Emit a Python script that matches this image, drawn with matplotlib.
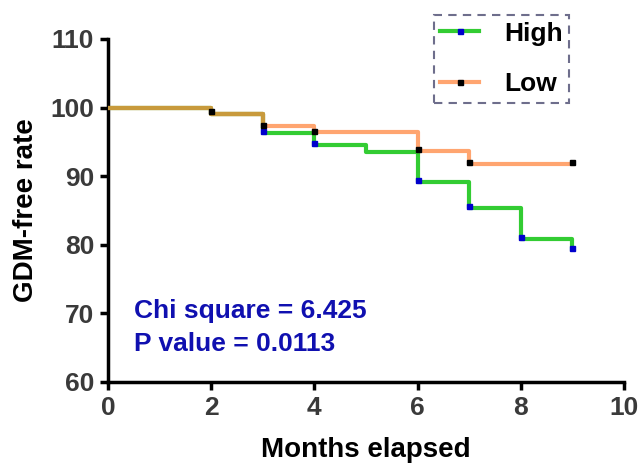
import matplotlib
matplotlib.use("Agg")
import matplotlib.pyplot as plt
import numpy as np

# Kaplan-Meier style step data (months, % GDM-free)
high_t = [0, 2, 3, 4, 5, 6, 7, 8, 9]
high_s = [100, 99.1, 96.3, 94.6, 93.6, 89.1, 85.4, 80.9, 79.4]
low_t = [0, 2, 3, 4, 6, 7, 9]
low_s = [100, 99.1, 97.3, 96.4, 93.7, 91.8, 91.8]

# censor marks (small squares)
high_mt = [3, 4, 6, 7, 8, 9]
high_ms = [96.6, 94.9, 89.4, 85.7, 81.2, 79.6]
low_mt = [2, 3, 4, 6, 7, 9]
low_ms = [99.5, 97.4, 96.6, 93.9, 92.1, 92.1]

chi_text = "Chi square = 6.425"
p_text = "P value = 0.0113"

plt.rcParams['font.family'] = ['Liberation Sans', 'DejaVu Sans']
plt.rcParams['font.weight'] = 'bold'

fig = plt.figure(figsize=(6.44, 4.66), dpi=100)
ax = fig.add_axes([108/644, 1 - 382/466, (624-108)/644, (382-39)/466])

green = '#33CC33'
orange = '#FFA570'
shared = '#C89A3C'
LW = 3.0

ax.step(high_t, high_s, where='post', color=green, lw=LW, zorder=2)
ax.step(low_t, low_s, where='post', color=orange, lw=LW, zorder=3)
# overlapping part of both curves (up to month 3)
ax.step(low_t[:3], low_s[:3], where='post', color=shared, lw=LW, zorder=4)
ax.plot([2, 3], [low_s[1], low_s[1]], color=shared, lw=LW, zorder=4, solid_capstyle='butt')

ax.plot(high_mt, high_ms, 's', color='#0000CC', ms=3.6, zorder=5)
ax.plot(low_mt, low_ms, 's', color='black', ms=3.6, zorder=5)

# legend proxies
lh, = ax.plot([], [], color=green, lw=LW, marker='s', mfc='#0000CC', mec='#0000CC', ms=3.6)
ll, = ax.plot([], [], color=orange, lw=LW, marker='s', mfc='black', mec='black', ms=3.6)
leg = ax.legend([lh, ll], ['High', 'Low'], loc='upper right', bbox_to_anchor=(569/644, 1 - 15/466),
                bbox_transform=fig.transFigure, frameon=True, fancybox=False,
                prop={'size': 19, 'weight': 'bold'}, handlelength=1.45, handletextpad=0.95,
                labelspacing=1.0, borderpad=0.25, borderaxespad=0, markerfirst=True)
fr = leg.get_frame()
fr.set_edgecolor('#4A4A70')
fr.set_linestyle((0, (4, 3)))
fr.set_linewidth(1.5)

ax.text(0.5, 70.3, chi_text, color='#1010B0', fontsize=19, fontweight='bold', va='center')
ax.text(0.5, 65.5, p_text, color='#1010B0', fontsize=19, fontweight='bold', va='center')

ax.set_xlim(0, 10)
ax.set_ylim(60, 110)
ax.set_xticks(np.arange(0, 11, 2))
ax.set_yticks(np.arange(60, 111, 10))
for s in ['top', 'right']:
    ax.spines[s].set_visible(False)
for s in ['left', 'bottom']:
    ax.spines[s].set_linewidth(2.5)
ax.tick_params(width=2.5, length=6, labelsize=19, labelcolor='#3A3A3A', pad=4)
for lab in ax.get_xticklabels() + ax.get_yticklabels():
    lab.set_fontweight('bold')

ax.set_xlabel('Months elapsed', fontsize=20, fontweight='bold', labelpad=12)
ax.set_ylabel('GDM-free rate', fontsize=20, fontweight='bold', labelpad=8)

fig.savefig('out.png', dpi=100)
